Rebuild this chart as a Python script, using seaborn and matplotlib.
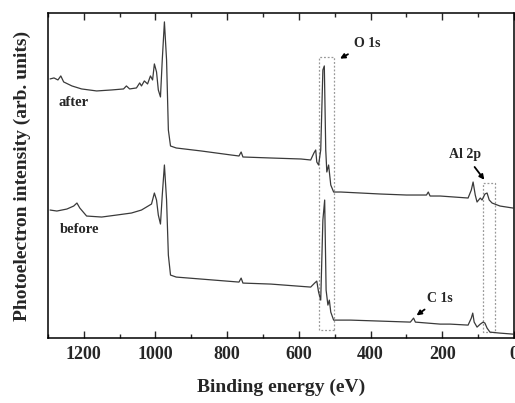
import matplotlib
matplotlib.use("Agg")
import matplotlib.pyplot as plt
from matplotlib.patches import Rectangle
from matplotlib.ticker import MultipleLocator
import seaborn as sns
import pandas as pd

# XPS survey spectra (binding energy in eV, intensity in arb. units)
be_after = [1294, 1283, 1272, 1264, 1256, 1233, 1206, 1164, 1122, 1089, 1081, 1072,
            1053, 1044, 1039, 1031, 1022, 1014, 1008, 1003, 997, 992, 986, 981, 975,
            969, 964, 958, 942, 872, 789, 767, 761, 756, 678, 594, 567, 558, 553, 550,
            545, 539, 533, 529, 525, 522, 517, 511, 503, 483, 372, 300, 244, 239, 234,
            206, 128, 119, 114, 108, 103, 94, 89, 81, 75, 69, 61, 39, 3]
int_after = [259, 260, 258, 262, 256, 252, 249, 247, 248, 249, 252, 249,
             250, 255, 252, 257, 254, 262, 258, 274, 266, 248, 241, 278, 316,
             278, 208, 192, 190, 187, 183, 182, 186, 181, 180, 179, 178, 185, 188, 176,
             173, 188, 268, 272, 188, 166, 173, 153, 146, 146, 144, 143, 143, 146, 142,
             142, 140, 148, 156, 143, 136, 140, 138, 144, 145, 138, 135, 132, 130]

be_before = [1294, 1275, 1247, 1228, 1219, 1211, 1192, 1150, 1108, 1067, 1039, 1025,
             1011, 1003, 997, 992, 986, 981, 975, 969, 964, 958, 942, 872, 767, 761,
             756, 678, 567, 556, 550, 545, 539, 533, 528, 524, 519, 515, 511, 503, 456,
             372, 289, 280, 275, 206, 178, 128, 119, 115, 111, 103, 94, 86, 81, 75, 67,
             39, 3]
int_before = [128, 127, 129, 132, 135, 130, 122, 121, 123, 125, 128, 131,
              134, 145, 138, 123, 114, 143, 173, 138, 83, 63, 61, 59, 56, 60,
              55, 54, 51, 55, 57, 46, 38, 118, 138, 48, 33, 38, 26, 18, 18,
              17, 16, 20, 16, 14, 14, 13, 20, 25, 16, 11, 14, 16, 15, 10, 6,
              5, 4]

df = pd.concat([
    pd.DataFrame({"Binding energy": be_after, "Intensity": int_after, "Sample": "after"}),
    pd.DataFrame({"Binding energy": be_before, "Intensity": int_before, "Sample": "before"}),
])

sns.set_style("ticks")
plt.rcParams["font.family"] = ["Liberation Serif", "DejaVu Serif"]
plt.rcParams["font.weight"] = "bold"

fig = plt.figure(figsize=(5.15, 4.03), dpi=100)
ax = fig.add_axes([0.093, 0.161, 0.905, 0.807])

sns.lineplot(data=df, x="Binding energy", y="Intensity", units="Sample",
             estimator=None, sort=False, color="#3a3a3a", linewidth=0.9, ax=ax)

ax.set_xlim(1300, 0)
ax.set_ylim(0, 325)

# dotted boxes around the O 1s and Al 2p regions
for x0, x1, y0, y1 in [(503, 544, 8, 281), (53, 86, 6, 155)]:
    ax.add_patch(Rectangle((x0, y0), x1 - x0, y1 - y0, fill=False,
                           edgecolor="#999999", linestyle=(0, (1.5, 1.5)), linewidth=0.9))

txt = dict(fontsize=10, fontweight="bold", va="center")
ax.text(1270, 235, "after", **dict(txt, fontsize=10.5))
ax.text(1267, 109, "before", **dict(txt, fontsize=10.5))
arrow = dict(arrowstyle="-|>", color="black", lw=1.3, mutation_scale=7)
ax.annotate("O 1s", xy=(492, 278), xytext=(447, 294), arrowprops=arrow, **txt)
ax.annotate("Al 2p", xy=(78, 156), xytext=(180, 183), arrowprops=arrow, **txt)
ax.annotate("C 1s", xy=(278, 21), xytext=(242, 40), arrowprops=arrow, **txt)

ax.xaxis.set_major_locator(MultipleLocator(200))
ax.xaxis.set_minor_locator(MultipleLocator(100))
ax.tick_params(axis="x", which="both", direction="in", top=True, bottom=True,
               labelsize=13, pad=6, width=1)
ax.tick_params(axis="x", which="major", length=5)
ax.tick_params(axis="x", which="minor", length=3)
ax.set_yticks([])
for sp in ax.spines.values():
    sp.set_visible(True)
    sp.set_linewidth(1.1)
    sp.set_color("black")

ax.set_xlabel("Binding energy (eV)", fontsize=14, fontweight="bold", labelpad=11)
ax.set_ylabel("Photoelectron intensity (arb. units)", fontsize=14, fontweight="bold",
              labelpad=12)
ax.get_legend() and ax.get_legend().remove()

fig.savefig("out.png", dpi=100)
